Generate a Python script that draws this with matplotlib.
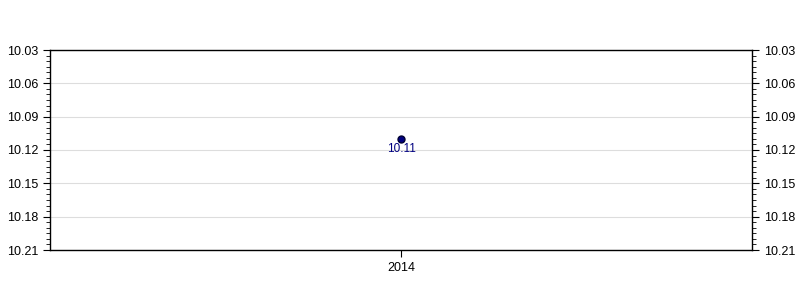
#!/usr/bin/env python3
from matplotlib import pyplot as plt
from matplotlib.ticker import MultipleLocator, FormatStrFormatter

years = ['2014']
values = [10.11]
labels = ['10.11']

plt.rcParams['font.family'] = ['Liberation Sans', 'DejaVu Sans']

fig = plt.figure(figsize=(8, 3), dpi=100)
ax = fig.add_axes([50 / 800, 50 / 300, 702 / 800, 200 / 300])

xs = list(range(len(years)))
ax.plot(xs, values, 'o', color='#000080', markeredgecolor='#000033',
        markersize=5, zorder=3)
for x, v, t in zip(xs, values, labels):
    ax.annotate(t, (x, v), xytext=(0, -3), textcoords='offset points',
                ha='center', va='top', fontsize=8.5, color='#000080')

ax.set_xlim(-0.5, len(years) - 0.5)
ax.set_xticks(xs)
ax.set_xticklabels(years)
ax.set_ylim(10.21, 10.03)
ax.yaxis.set_major_locator(MultipleLocator(0.03, offset=0.01))
ax.yaxis.set_minor_locator(MultipleLocator(0.005))
ax.yaxis.set_major_formatter(FormatStrFormatter('%.2f'))
ax.grid(axis='y', color='#dddddd', linewidth=0.8)
ax.set_axisbelow(True)

ax.tick_params(axis='y', which='both', left=True, right=True,
               labelleft=True, labelright=True, direction='out',
               labelsize=9, color='black')
ax.tick_params(axis='y', which='major', length=5)
ax.tick_params(axis='y', which='minor', length=3)
ax.tick_params(axis='x', length=5, labelsize=9)

for s in ax.spines.values():
    s.set_linewidth(1)

plt.savefig('out.png', dpi=100)
